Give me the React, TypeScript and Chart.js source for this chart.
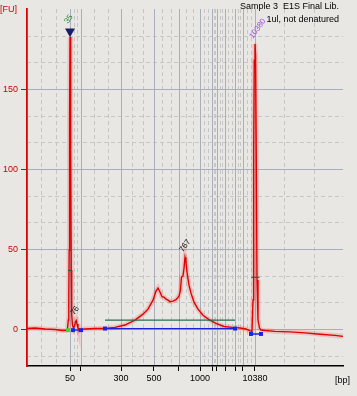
import React, { useEffect, useRef } from 'react';
import { Chart, registerables } from 'chart.js';

Chart.register(...registerables);

// ---- data (x = migration time, s; y = fluorescence, FU) ----
const xMin = 40;
const xMax = 120;
const yMin = -23;
const yMax = 200;

const ladderTimes = [50.9, 53.67, 63.8, 72.15, 78.48, 83.8, 86.84, 88.1, 90.13, 92.66, 94.68, 97.72];
const ladderLabels = ['50', '', '300', '500', '', '1000', '', '', '', '', '', '10380'];
const yTickValues = [0, 50, 100, 150];

const traceTime = [
  40, 42.03, 44.56, 47.09, 48.86, 49.87, 50.25, 50.46, 50.58, 50.68, 50.78, 50.89, 51.01, 51.11, 51.21, 51.32,
  51.52, 51.77, 52.03, 52.28, 52.46, 52.66, 52.91, 53.42, 54.68, 57.22, 59.75, 62.28, 64.81, 67.34, 69.37, 70.63,
  71.9, 72.66, 73.16, 73.67, 74.18, 74.68, 75.19, 75.7, 76.2, 76.96, 77.72, 78.48, 78.86, 79.11, 79.49, 79.75,
  80.0, 80.25, 80.51, 81.01, 81.52, 82.28, 83.29, 84.56, 86.08, 87.85, 89.87, 91.9, 93.92, 95.44, 96.46, 96.96,
  97.22, 97.39, 97.54, 97.72, 97.87, 98.03, 98.23, 98.48, 98.86, 99.24, 100.25, 102.78, 106.58, 110.38, 114.18,
  117.97, 120,
];
const traceFU = [
  0.4, 0.7, 0.1, -0.2, -0.8, -0.8, 0.1, 5.7, 18.2, 49.3, 130.5, 182.5, 168, 112, 37, 9,
  2.6, 0.7, 2, 4.5, 5.4, 3.2, 0.7, -0.2, 0.1, 0.4, 0.4, 1.1, 2.6, 5.7, 9.4, 12.5,
  18.1, 23.8, 25.7, 23.2, 20.3, 20, 18.7, 18.1, 17.2, 17.5, 18.4, 20.6, 24.4, 32.5, 33.1, 38.1,
  44.8, 41.9, 35.6, 27.5, 22.5, 16.9, 12.5, 8.7, 6, 3.6, 1.7, 1.1, 0.7, 0.1, -1.1, -1.4,
  18.2, 111.9, 168, 178.2, 171, 112, 30.7, 5.7, 0.7, -0.5, -0.8, -1.4, -1.7, -2.3, -3.2,
  -3.9, -4.5,
];

const regionStartTime = 59.75;
const regionEndTime = 92.66;
const regionThresholdFU = 5.6;

const startMarkerTime = [50.38];
const startMarkerFU = [-0.6];

const peakEdgeStart = [51.65, 59.75, 96.71];
const peakEdgeEnd = [53.67, 92.66, 99.24];
const peakEdgeFU = [-0.6, 0.4, -3.0];

const widthMarkStart = [50.38, 52.03, 96.77];
const widthMarkEnd = [51.39, 52.78, 98.86];
const widthMarkFU = [36.7, 4.5, 32.4];

const lowerMarkerTime = [50.89];
const lowerMarkerArrowFU = [186];

const peakLabelText = ['35', '76', '767', '10380'];
const peakLabelTime = [50.89, 52.46, 80.0, 97.72];
const peakLabelFU = [182.5, 5.4, 44.8, 178.2];

const titleLines = ['Sample 3  E1S Final Lib.', '1ul, not denatured'];
const yUnit = '[FU]';
const xUnit = '[bp]';

// ---- styles ----
const BG = '#E9E7E3';
const FONT = '"Liberation Sans", Arial, sans-serif';
const peakLabelColors = ['#1E8C2A', '#111111', '#111111', '#9A4FD8'];
const peakLabelLift = [13, 5, 5, 5];

const pairs = (xs: number[], ys: number[]) => xs.map((x, i) => ({ x, y: ys[i] }));

const gridPlugin = {
  id: 'bgGrid',
  beforeDraw(chart: any) {
    const { ctx, width, height } = chart;
    ctx.save();
    ctx.fillStyle = BG;
    ctx.fillRect(0, 0, width, height);
    ctx.restore();
  },
  beforeDatasetsDraw(chart: any) {
    const { ctx, chartArea: a, scales } = chart;
    const x = scales.x;
    const y = scales.y;
    ctx.save();
    ctx.beginPath();
    ctx.rect(a.left + 1, a.top, a.right - a.left, a.bottom - a.top - 1);
    ctx.clip();
    ctx.lineWidth = 1;
    // minor dashed
    ctx.setLineDash([4, 3]);
    ctx.strokeStyle = '#C6C6C6';
    const bounds = [xMin, ...ladderTimes, xMax];
    for (let i = 0; i < bounds.length - 1; i++) {
      for (let k = 1; k <= 2; k++) {
        const v = bounds[i] + ((bounds[i + 1] - bounds[i]) * k) / 3;
        const px = Math.round(x.getPixelForValue(v)) + 0.5;
        ctx.beginPath();
        ctx.moveTo(px, a.top);
        ctx.lineTo(px, a.bottom);
        ctx.stroke();
      }
    }
    for (let j = -3; j <= 12; j++) {
      if (j % 3 === 0) continue;
      const v = (j * 50) / 3;
      if (v <= yMin || v >= yMax) continue;
      const py = Math.round(y.getPixelForValue(v)) + 0.5;
      ctx.beginPath();
      ctx.moveTo(a.left, py);
      ctx.lineTo(a.right, py);
      ctx.stroke();
    }
    // major solid
    ctx.setLineDash([]);
    ctx.strokeStyle = '#A9AFBA';
    ladderTimes.forEach((v) => {
      const px = Math.round(x.getPixelForValue(v)) + 0.5;
      ctx.beginPath();
      ctx.moveTo(px, a.top);
      ctx.lineTo(px, a.bottom);
      ctx.stroke();
    });
    yTickValues.forEach((v) => {
      const py = Math.round(y.getPixelForValue(v)) + 0.5;
      ctx.beginPath();
      ctx.moveTo(a.left, py);
      ctx.lineTo(a.right, py);
      ctx.stroke();
    });
    ctx.restore();
  },
  afterDraw(chart: any) {
    const { ctx, scales, chartArea: a } = chart;
    const x = scales.x;
    const y = scales.y;
    ctx.save();
    // peak labels
    ctx.font = `8px ${FONT}`;
    ctx.textAlign = 'left';
    ctx.textBaseline = 'alphabetic';
    peakLabelText.forEach((t, i) => {
      const px = x.getPixelForValue(peakLabelTime[i]);
      const py = y.getPixelForValue(peakLabelFU[i]) - peakLabelLift[i];
      ctx.save();
      ctx.translate(px - 2, py);
      ctx.rotate(-0.95);
      ctx.fillStyle = peakLabelColors[i];
      ctx.fillText(t, 0, 0);
      ctx.restore();
    });
    // title
    ctx.font = `9px ${FONT}`;
    ctx.fillStyle = '#000';
    ctx.textAlign = 'right';
    ctx.fillText(titleLines[0], 339, 9);
    ctx.fillText(titleLines[1], 339, 22);
    // units
    ctx.textAlign = 'left';
    ctx.fillStyle = '#C80000';
    ctx.fillText(yUnit, 0, 12);
    ctx.fillStyle = '#000';
    ctx.fillText(xUnit, a.right - 8, a.bottom + 17);
    ctx.restore();
  },
};

export default function App() {
  const ref = useRef<HTMLCanvasElement>(null);

  useEffect(() => {
    document.body.style.margin = '0';
    document.body.style.background = BG;
    const edgeLine: any[] = [];
    peakEdgeStart.forEach((s, i) => {
      edgeLine.push({ x: s, y: peakEdgeFU[i] }, { x: peakEdgeEnd[i], y: peakEdgeFU[i] }, { x: peakEdgeEnd[i], y: null });
    });
    const widthLines: any[] = [];
    widthMarkStart.forEach((s, i) => {
      widthLines.push({ x: s, y: widthMarkFU[i] }, { x: widthMarkEnd[i], y: widthMarkFU[i] }, { x: widthMarkEnd[i], y: null });
    });
    const edgePoints = [
      ...peakEdgeStart.map((s, i) => ({ x: s, y: peakEdgeFU[i] })),
      ...peakEdgeEnd.map((s, i) => ({ x: s, y: peakEdgeFU[i] })),
    ];
    const tracePts = pairs(traceTime, traceFU);

    const chart = new Chart(ref.current as HTMLCanvasElement, {
      type: 'line',
      data: {
        datasets: [
          {
            label: 'arrow',
            data: pairs(lowerMarkerTime, lowerMarkerArrowFU),
            showLine: false,
            pointStyle: 'triangle',
            rotation: 180,
            pointRadius: 5.8,
            backgroundColor: '#1C1C6A',
            borderColor: '#1C1C6A',
            borderWidth: 0,
            order: 0,
          } as any,
          {
            label: 'start',
            data: pairs(startMarkerTime, startMarkerFU),
            showLine: false,
            pointStyle: 'rect',
            pointRadius: 2.8,
            backgroundColor: '#33DD33',
            borderColor: '#22BB22',
            borderWidth: 0,
            order: 1,
          } as any,
          {
            label: 'edges',
            data: edgePoints,
            showLine: false,
            pointStyle: 'rect',
            pointRadius: 2.8,
            backgroundColor: '#1428E6',
            borderColor: '#1428E6',
            borderWidth: 0,
            order: 2,
          } as any,
          {
            label: 'edgeLines',
            data: edgeLine,
            borderColor: '#1A22E0',
            borderWidth: 1.3,
            pointRadius: 0,
            spanGaps: false,
            order: 3,
          } as any,
          {
            label: 'threshold',
            data: [
              { x: regionStartTime, y: regionThresholdFU },
              { x: regionEndTime, y: regionThresholdFU },
            ],
            borderColor: '#2F6B55',
            borderWidth: 1.2,
            pointRadius: 0,
            order: 4,
          } as any,
          {
            label: 'widths',
            data: widthLines,
            borderColor: '#3A4A40',
            borderWidth: 1,
            pointRadius: 0,
            spanGaps: false,
            order: 5,
          } as any,
          {
            label: 'trace',
            data: tracePts,
            borderColor: '#E00000',
            borderWidth: 1.4,
            pointRadius: 0,
            tension: 0,
            order: 6,
          } as any,
          {
            label: 'halo',
            data: tracePts,
            borderColor: 'rgba(235, 40, 40, 0.18)',
            borderWidth: 5,
            pointRadius: 0,
            tension: 0,
            order: 7,
          } as any,
        ],
      },
      options: {
        responsive: false,
        devicePixelRatio: 1,
        animation: false,
        parsing: true as any,
        layout: { padding: { top: 9, right: 14, left: 0, bottom: 0 } },
        plugins: { legend: { display: false }, tooltip: { enabled: false }, title: { display: false } },
        scales: {
          x: {
            type: 'linear',
            min: xMin,
            max: xMax,
            afterBuildTicks: (s: any) => {
              s.ticks = ladderTimes.map((v) => ({ value: v }));
            },
            afterFit: (s: any) => {
              s.height = 30;
            },
            ticks: {
              autoSkip: false,
              maxRotation: 0,
              minRotation: 0,
              padding: 2,
              color: '#000',
              font: { family: FONT, size: 9 },
              callback: (_v: any, i: number) => ladderLabels[i],
            },
            grid: { drawOnChartArea: false, drawTicks: true, tickLength: 5, tickColor: '#000', tickWidth: 1 },
            border: { color: '#000', width: 1.5 },
          },
          y: {
            type: 'linear',
            min: yMin,
            max: yMax,
            afterBuildTicks: (s: any) => {
              s.ticks = yTickValues.map((v) => ({ value: v }));
            },
            afterFit: (s: any) => {
              s.width = 27;
            },
            ticks: {
              padding: 3,
              color: '#CC0000',
              font: { family: FONT, size: 9 },
              callback: (v: any) => String(v),
            },
            grid: { drawOnChartArea: false, drawTicks: true, tickLength: 6, tickColor: '#CC0000', tickWidth: 1 },
            border: { color: '#DD0000', width: 1.8 },
          },
        },
      } as any,
      plugins: [gridPlugin],
    });
    return () => chart.destroy();
  }, []);

  return (
    <div style={{ width: 357, height: 396, background: BG }}>
      <canvas ref={ref} width={357} height={396} style={{ display: 'block', width: 357, height: 396 }} />
    </div>
  );
}
